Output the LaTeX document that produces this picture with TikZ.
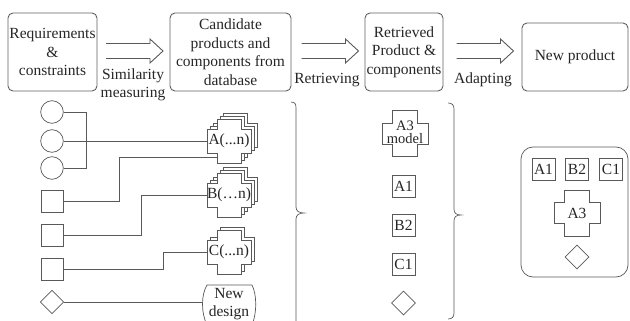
\documentclass[tikz,border=0pt]{standalone}
\usepackage{fontspec}
\setmainfont{Liberation Serif}
\usetikzlibrary{shapes.geometric,calc}
\begin{document}
\begin{tikzpicture}[x=1pt,y=-1pt,
  every node/.style={font=\fontsize{15.5}{18.5}\selectfont, text=black!85, inner sep=0pt},
  topbox/.style={draw=gray!75!black, line width=0.9pt, rounded corners=5pt, align=center},
  ln/.style={draw=gray!70!black, line width=0.7pt},
  circ/.style={ln, circle, minimum size=22.6pt},
  sqr/.style={ln, rectangle, minimum width=22pt, minimum height=22pt},
  smallbox/.style={ln, rectangle, minimum width=23pt, minimum height=22pt},
  dia/.style={ln, diamond, minimum width=23.5pt, minimum height=23.5pt},
  lbl/.style={align=center, font=\fontsize{15.5}{18}\selectfont},
  crossp/.pic={\draw[ln, fill=white] (-22,-12) -- (-12,-12) -- (-12,-22) -- (12,-22) -- (12,-12) -- (22,-12) -- (22,12) -- (12,12) -- (12,22) -- (-12,22) -- (-12,12) -- (-22,12) -- cycle;},
  crossbig/.pic={\draw[ln, fill=white] (-23,-10.5) -- (-12.5,-10.5) -- (-12.5,-23) -- (12.5,-23) -- (12.5,-10.5) -- (23,-10.5) -- (23,10.5) -- (12.5,10.5) -- (12.5,23) -- (-12.5,23) -- (-12.5,10.5) -- (-23,10.5) -- cycle;},
  dblarrow/.pic={\draw[draw=gray!70!black, line width=0.9pt, line join=miter] (-28.5,-7.5) -- (15.5,-7.5) -- (15.5,-12) -- (28.5,0) -- (15.5,12) -- (15.5,7.5) -- (-28.5,7.5);}
]
\useasboundingbox (0,0) rectangle (630,321);
\clip (0,0) rectangle (630,321);

% top row
\node[topbox, minimum width=89pt, minimum height=78pt] (b1) at (52.5,52) {Requirements\\\&\\constraints};
\node[topbox, minimum width=121pt, minimum height=78pt] (b2) at (230.5,52) {Candidate\\products and\\components from\\database};
\node[topbox, minimum width=78pt, minimum height=78pt] (b3) at (404,52) {Retrieved\\Product \&\\components};
\node[topbox, minimum width=106pt, minimum height=68pt] (b4) at (575,57) {New product};

\pic at (134.5,51) {dblarrow};
\pic at (330,51) {dblarrow};
\pic at (485,51) {dblarrow};
\node[lbl] (l1) at (133,85) {Similarity\\measuring};
\node[lbl] (l2) at (327,80) {Retrieving};
\node[lbl] (l3) at (483,80) {Adapting};

% crosses (drawn first, filled)
\pic at (235,135) {crossp};
\pic at (232,138) {crossp};
\pic at (229,141) {crossp};
\pic at (235,189) {crossp};
\pic at (232,192) {crossp};
\pic at (229,195) {crossp};
\pic at (232,249) {crossp};
\pic at (229,252) {crossp};
\pic at (405,133.5) {crossbig};

% new design tape shape
\draw[ln, fill=white] (207,285) -- (252,285) .. controls (257,295) and (257,313) .. (252,325) -- (207,325) .. controls (201,313) and (201,295) .. (207,285) -- cycle;

% left column shapes
\node[circ] (c1) at (52,112) {};
\node[circ] (c2) at (52,141) {};
\node[circ] (c3) at (52,168) {};
\node[sqr] (s1) at (52,201) {};
\node[sqr] (s2) at (52,235) {};
\node[sqr] (s3) at (52,269) {};
\node[dia] (d1) at (52,302) {};

% cross labels
\node[minimum width=44pt, minimum height=44pt] (A) at (229,141) {A(...n)};
\node[minimum width=44pt, minimum height=44pt] (B) at (229,195) {B(…n)};
\node[minimum width=44pt, minimum height=44pt] (C) at (229,252) {C(...n)};
\node[align=center, font=\fontsize{15.5}{18}\selectfont] (nd) at (229,304) {New\\design};
\coordinate (ndw) at (202.3,302);

% connectors
\draw[ln] (c1.east) -- (86,112) |- (c3.east);
\draw[ln] (c2.east) -- (A.west);
\draw[ln] (s1.east) -- (119,201) |- ($(A.center)+(-12,16)$);
\draw[ln] (s2.east) -- (141,235) |- (B.west);
\draw[ln] (s3.east) -- (163,269) |- (C.west);
\draw[ln] (d1.east) -- (ndw);

% braces
\draw[ln] (291,102) .. controls (295,102) and (296,104) .. (296,108) -- (296,207) .. controls (296,211) and (299,213) .. (304,213) .. controls (299,213) and (296,215) .. (296,219) -- (296,335);
\draw[ln] (448,103) .. controls (452,103) and (454,105) .. (454,109) -- (454,209) .. controls (454,213) and (456,215) .. (461,215) .. controls (456,215) and (454,217) .. (454,221) -- (454,313) .. controls (454,317) and (452,319) .. (448,319);

% retrieved column
\node[align=center, font=\fontsize{14.5}{13}\selectfont] (a3m) at (405,132.5) {A3\\model};
\node[smallbox] (ra1) at (403.5,186) {A1};
\node[smallbox] (rb2) at (403.5,225) {B2};
\node[smallbox] (rc1) at (403.5,264) {C1};
\node[dia, minimum width=24pt, minimum height=24pt] (rd) at (403.5,303) {};

% new product box
\node[ln, rounded corners=12pt, minimum width=107pt, minimum height=130pt] (np) at (574.5,212) {};
\node[smallbox] (na1) at (543.5,169.5) {A1};
\node[smallbox] (nb2) at (577,169.5) {B2};
\node[smallbox] (nc1) at (611,169.5) {C1};
\pic at (577,213) {crossbig};
\node (na3) at (577,213) {A3};
\node[dia, minimum width=24pt, minimum height=24pt] (nd2) at (577,257) {};
\end{tikzpicture}
\end{document}
